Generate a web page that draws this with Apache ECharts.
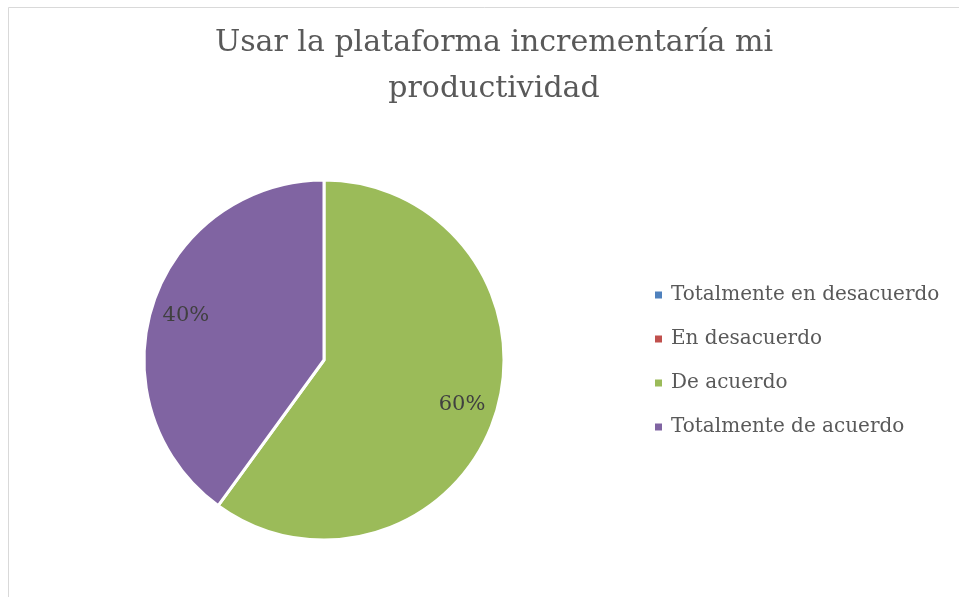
<!DOCTYPE html>
<html>
<head>
<meta charset="utf-8">
<script src="https://cdn.jsdelivr.net/npm/echarts@6/dist/echarts.min.js"></script>
<style>
html,body{margin:0;padding:0;background:#fff;}
#chart{width:959px;height:597px;}
</style>
</head>
<body>
<div id="chart"></div>
<script>
const titleText = 'Usar la plataforma incrementaría mi\nproductividad';
const categories = ['Totalmente en desacuerdo', 'En desacuerdo', 'De acuerdo', 'Totalmente de acuerdo'];
const values = [0, 0, 60, 40];
const colors = ['#4F81BD', '#C0504D', '#9BBB59', '#8064A2'];

const data = categories.map((name, i) => ({ name: name, value: values[i] }));
const serif = '"DejaVu Serif", serif';
const R = 180;

const chart = echarts.init(document.getElementById('chart'), null, { renderer: 'canvas' });
chart.setOption({
  animation: false,
  color: colors,
  graphic: [{
    type: 'rect', silent: true, z: -10,
    shape: { x: 8.5, y: 7.5, width: 1200, height: 900 },
    style: { fill: '#fff', stroke: '#D9D9D9', lineWidth: 1 }
  }],
  title: {
    text: titleText,
    left: 489, top: 15, textAlign: 'center',
    textStyle: { fontFamily: serif, fontSize: 30, fontWeight: 'normal', color: '#595959', lineHeight: 46 }
  },
  legend: {
    orient: 'vertical',
    left: 650, top: 280,
    icon: 'rect', itemWidth: 7, itemHeight: 7, itemGap: 24,
    selectedMode: false,
    itemStyle: { borderWidth: 0 },
    textStyle: { fontFamily: serif, fontSize: 20, color: '#595959', lineHeight: 20, padding: [0, 0, 0, 4] },
    data: categories
  },
  series: [{
    type: 'pie',
    center: [324, 360],
    radius: [0, R],
    startAngle: 90,
    clockwise: true,
    avoidLabelOverlap: false,
    itemStyle: { borderColor: '#fff', borderWidth: 3 },
    label: { show: false },
    labelLine: { show: false },
    emphasis: { disabled: true },
    data: data
  }, {
    type: 'pie',
    center: [324, 360],
    radius: [R * 0.58, R],
    startAngle: 90,
    clockwise: true,
    silent: true,
    legendHoverLink: false,
    avoidLabelOverlap: false,
    itemStyle: { color: 'rgba(0,0,0,0)', borderWidth: 0 },
    label: {
      show: true, position: 'inside',
      fontFamily: serif, fontSize: 21, color: '#404040',
      formatter: p => p.value ? p.value + '%' : ''
    },
    labelLine: { show: false },
    emphasis: { disabled: true },
    data: data
  }]
});
</script>
</body>
</html>
